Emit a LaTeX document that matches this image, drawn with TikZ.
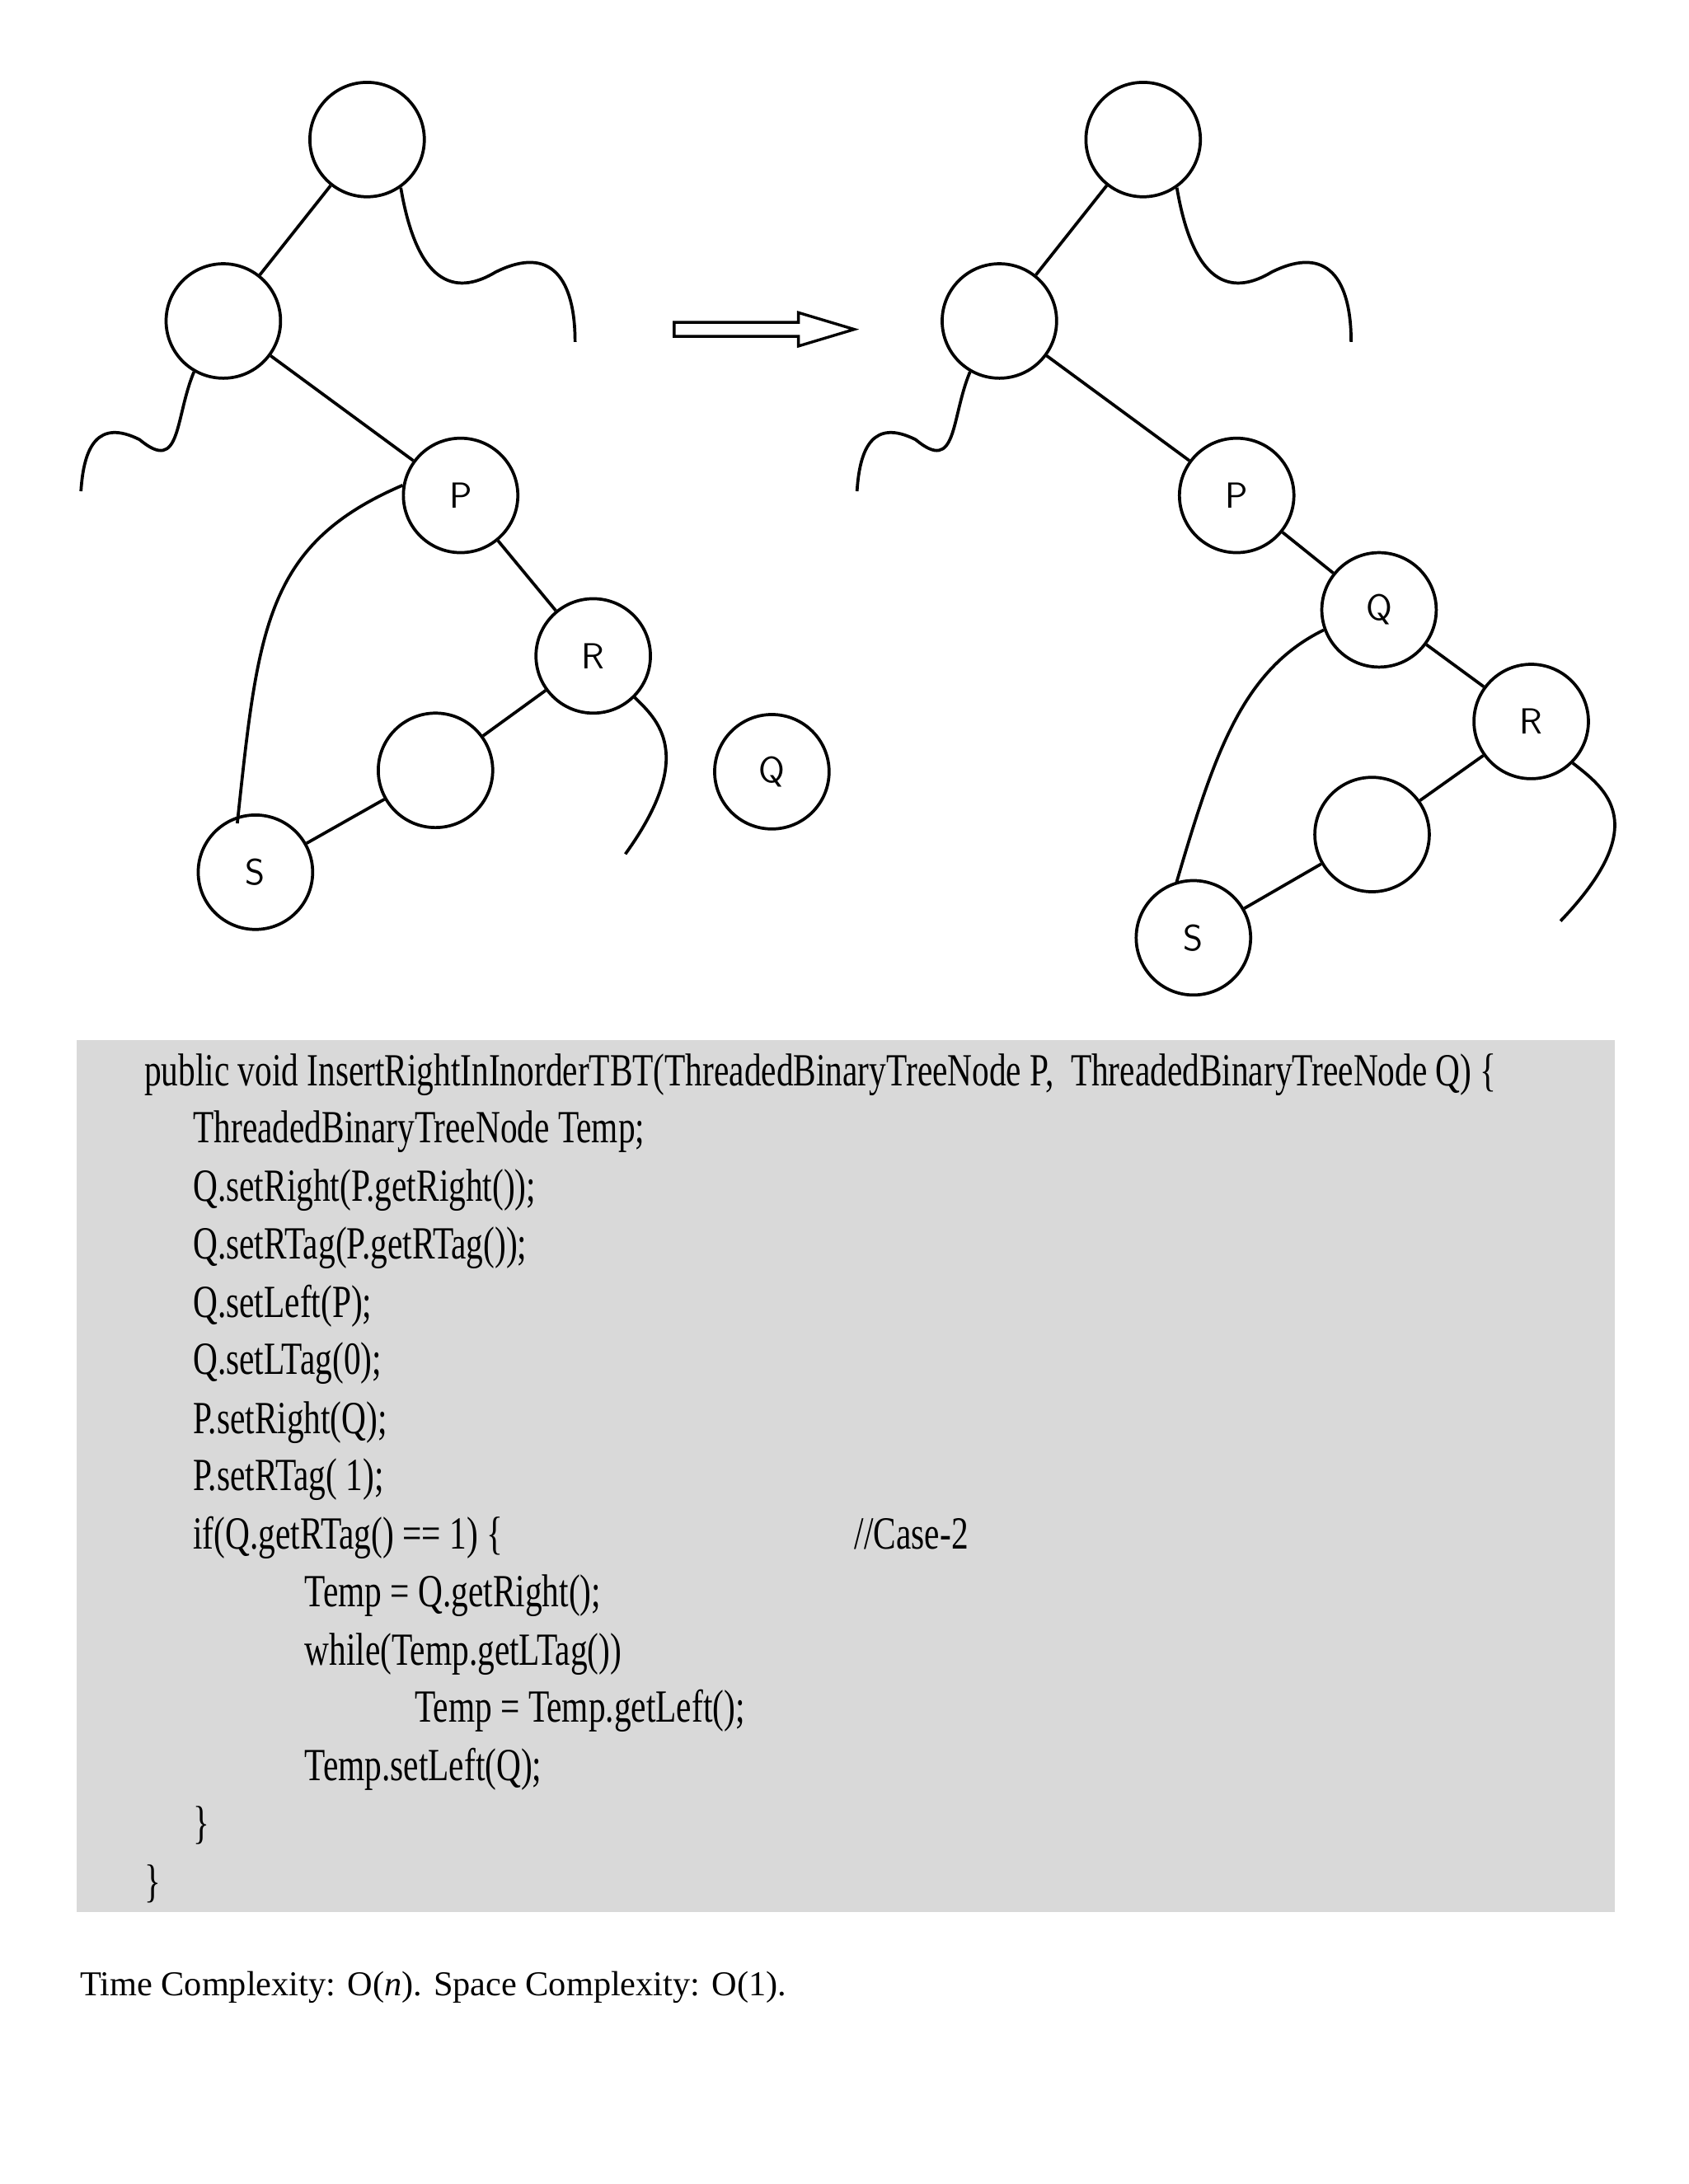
\documentclass[tikz,border=0pt]{standalone}
\usepackage{fontspec}
\newfontfamily\codefont[FakeStretch=0.74]{Liberation Serif}
\newfontfamily\timesfont{Liberation Serif}
\usetikzlibrary{arrows.meta}
\begin{document}
\begin{tikzpicture}[x=0.5pt,y=-0.5pt,
  tn/.style={circle,draw,line width=1.1pt,minimum size=41pt,inner sep=0pt,font=\sffamily\fontsize{13}{13}\selectfont},
  ln/.style={line width=1.1pt},
  code/.style={anchor=base west,inner sep=0pt,font=\codefont\fontsize{16.5}{16.5}\selectfont}]
\useasboundingbox (0,0) rectangle (1210,1565);
% left tree
\node[tn] (a1) at (263,100) {};
\node[tn] (b1) at (160,230) {};
\node[tn] (p1) at (330,355) {P};
\node[tn] (r1) at (425,470) {R};
\node[tn] (e1) at (312,552) {};
\node[tn] (s1) at (183,625) {S};
\node[tn] (q1) at (553,553) {Q};
\draw[ln] (a1)--(b1); \draw[ln] (b1)--(p1); \draw[ln] (p1)--(r1); \draw[ln] (r1)--(e1); \draw[ln] (e1)--(s1);
\draw[ln] (a1.-55) .. controls (300,210) and (330,210) .. (355,195) .. controls (395,175) and (412,200) .. (412,245);
\draw[ln] (b1.-120) .. controls (125,300) and (130,340) .. (100,315) .. controls (70,300) and (60,320) .. (58,352);
\draw[ln] (p1.170) .. controls (190,390) and (185,450) .. (170,590);
\draw[ln] (r1.-45) .. controls (470,515) and (500,540) .. (448,612);
% arrow
\draw[line width=1pt] (483,231)--(572,231)--(572,224)--(612,236)--(572,248)--(572,241)--(483,241)--cycle;
% right tree
\node[tn] (a2) at (819,100) {};
\node[tn] (b2) at (716,230) {};
\node[tn] (p2) at (886,355) {P};
\node[tn] (q2) at (988,437) {Q};
\node[tn] (r2) at (1097,517) {R};
\node[tn] (e2) at (983,598) {};
\node[tn] (s2) at (855,672) {S};
\draw[ln] (a2)--(b2); \draw[ln] (b2)--(p2); \draw[ln] (p2)--(q2); \draw[ln] (q2)--(r2); \draw[ln] (r2)--(e2); \draw[ln] (e2)--(s2);
\draw[ln] (a2.-55) .. controls (856,210) and (886,210) .. (911,195) .. controls (951,175) and (968,200) .. (968,245);
\draw[ln] (b2.-120) .. controls (681,300) and (686,340) .. (656,315) .. controls (626,300) and (616,320) .. (614,352);
\draw[ln] (q2.-160) .. controls (890,480) and (870,540) .. (843,632);
\draw[ln] (r2.-45) .. controls (1150,565) and (1185,590) .. (1118,660);
% code box
\fill[black!15] (55,745) rectangle (1157,1370);
\node[code] (c1) at (103,778) {public void InsertRightInInorderTBT(ThreadedBinaryTreeNode P,\ \ ThreadedBinaryTreeNode Q) \{};
\node[code] (c2) at (138,819) {ThreadedBinaryTreeNode Temp;};
\node[code] (c3) at (138,861) {Q.setRight(P.getRight());};
\node[code] (c4) at (138,902) {Q.setRTag(P.getRTag());};
\node[code] (c5) at (138,944) {Q.setLeft(P);};
\node[code] (c6) at (138,985) {Q.setLTag(0);};
\node[code] (c7) at (138,1027) {P.setRight(Q);};
\node[code] (c8) at (138,1068) {P.setRTag( 1);};
\node[code] (c9) at (138,1110) {if(Q.getRTag() == 1) \{};
\node[code] (cc) at (612,1110) {//Case-2};
\node[code] (c10) at (218,1151) {Temp = Q.getRight();};
\node[code] (c11) at (218,1193) {while(Temp.getLTag())};
\node[code] (c12) at (297,1234) {Temp = Temp.getLeft();};
\node[code] (c13) at (218,1276) {Temp.setLeft(Q);};
\node[code] (c14) at (138,1317) {\}};
\node[code] (c15) at (103,1359) {\}};
\node[anchor=base west,inner sep=0pt,font=\timesfont\fontsize{12.5}{12.5}\selectfont] (tc) at (57,1430) {Time Complexity: O(\textit{n}). Space Complexity: O(1).};
\end{tikzpicture}
\end{document}
